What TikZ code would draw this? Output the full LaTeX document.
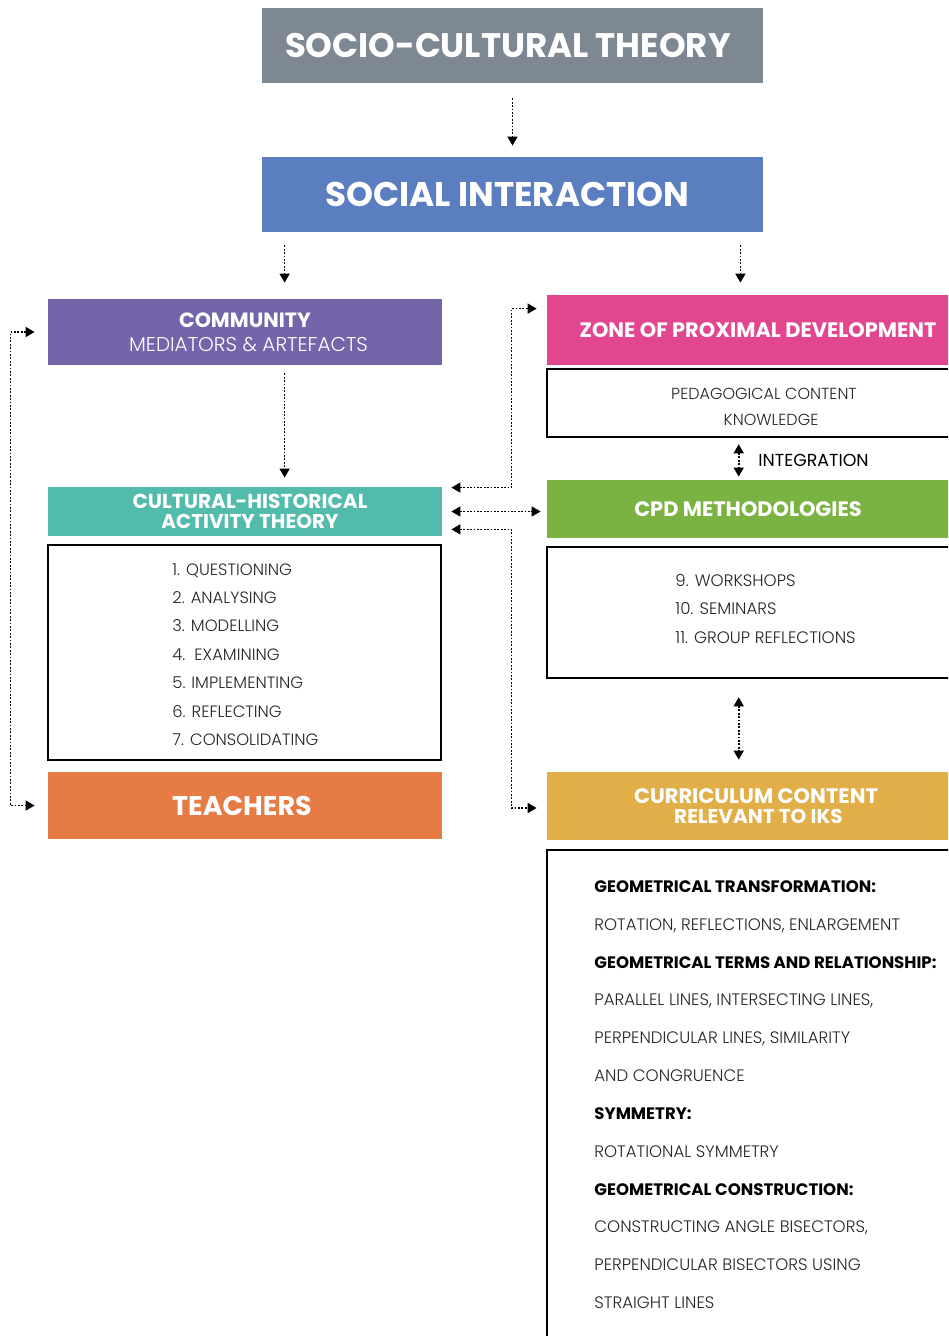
\documentclass[tikz,border=0pt]{standalone}
\usepackage{fontspec}
\setmainfont{Poppins}
\newfontfamily\lightfont{Poppins Light}
\usetikzlibrary{arrows.meta,calc,fit}

\definecolor{cSCT}{HTML}{7E8893}
\definecolor{cSI}{HTML}{5B7EC0}
\definecolor{cCOMM}{HTML}{7465AB}
\definecolor{cZPD}{HTML}{E2468E}
\definecolor{cCHAT}{HTML}{52BBAB}
\definecolor{cCPD}{HTML}{7AB342}
\definecolor{cTEACH}{HTML}{E67B43}
\definecolor{cCURR}{HTML}{E2AE47}
\definecolor{cText}{HTML}{262626}

\tikzset{
  hbox/.style={inner sep=0pt, draw=none, text=white, align=center, font=\bfseries},
  wbox/.style={inner sep=0pt, draw=black, line width=1.3pt, fill=white},
  item/.style={anchor=west, inner sep=0pt, text height=0.7em, text depth=0pt,
    text=cText, font=\lightfont\fontsize{8.2}{9}\selectfont},
  gitem/.style={item, font=\lightfont\fontsize{8.3}{9}\selectfont},
  bitem/.style={item, text=black, font=\bfseries\fontsize{8.3}{9}\selectfont},
  conn/.style={line width=0.8pt, dash pattern=on 0.9pt off 0.8pt,
    -{Triangle[length=4.5pt,width=5pt]}},
  biconn/.style={conn, {Triangle[length=4.5pt,width=5pt]}-{Triangle[length=4.5pt,width=5pt]}},
}

\begin{document}
\begin{tikzpicture}[x=0.5pt, y=-0.5pt]
\clip (0,0) rectangle (948,1336);

% ---- coloured heading boxes ----
\node[hbox, fill=cSCT, minimum width=250.5pt, minimum height=37.5pt] (sct) at (512.5,45.5)
  {\fontsize{17}{20}\selectfont\hspace*{-4.5pt}SOCIO-CULTURAL THEORY};
\node[hbox, fill=cSI, minimum width=250.5pt, minimum height=37.5pt] (si) at (512.5,194.5)
  {\fontsize{17.1}{20}\selectfont\hspace*{-5pt}SOCIAL INTERACTION};
\node[hbox, fill=cCOMM, minimum width=197pt, minimum height=33pt] (comm) at (245,332)
  {\fontsize{10.3}{11}\selectfont COMMUNITY\\
   {\lightfont\mdseries\fontsize{10}{11}\selectfont\hspace*{3.5pt}MEDIATORS \& ARTEFACTS}};
\node[hbox, fill=cZPD, minimum width=202.5pt, minimum height=35pt] (zpd) at (749.5,330)
  {\fontsize{10.45}{12}\selectfont\hspace*{8.5pt}ZONE OF PROXIMAL DEVELOPMENT};
\node[hbox, fill=cCHAT, minimum width=197pt, minimum height=24.5pt] (chat) at (245,511.5)
  {\fontsize{10.1}{10.2}\selectfont\hspace*{5pt}CULTURAL-HISTORICAL\\[-2pt]\hspace*{5pt}ACTIVITY THEORY};
\node[hbox, fill=cCPD, minimum width=202.5pt, minimum height=29pt] (cpd) at (749.5,509)
  {\fontsize{10.45}{12}\selectfont\hspace*{-1.5pt}CPD METHODOLOGIES};
\node[hbox, fill=cTEACH, minimum width=197pt, minimum height=33.5pt] (teach) at (245,805.5)
  {\fontsize{13.5}{15}\selectfont\hspace*{-3pt}TEACHERS};
\node[hbox, fill=cCURR, minimum width=202.5pt, minimum height=34pt] (curr) at (749.5,806)
  {\fontsize{10.5}{10.6}\selectfont\hspace*{6.5pt}CURRICULUM CONTENT\\[-2pt]\hspace*{9pt}RELEVANT TO IKS};

% ---- framed content boxes ----
\node[wbox, fit={(547,369)(955,437)}] (pck) {};
\node[wbox, fit={(48,545)(441,760)}] (steps) {};
\node[wbox, fit={(547,547)(955,678)}] (cpdlist) {};
\node[wbox, fit={(547,850)(955,1345)}] (content) {};

% pedagogical content knowledge
\node[item, anchor=center, font=\lightfont\fontsize{8}{9}\selectfont] (pck1) at (764,393) {PEDAGOGICAL CONTENT};
\node[item, anchor=center, font=\lightfont\fontsize{8}{9}\selectfont] (pck2) at (771,418) {KNOWLEDGE};
\node[item, text=black, font=\fontsize{8.7}{9}\selectfont] (integ) at (758,459) {INTEGRATION};

% activity theory steps
\node[item] (s1) at (172,568) {1. QUESTIONING};
\node[item] (s2) at (172,596) {2. ANALYSING};
\node[item] (s3) at (172,624) {3. MODELLING};
\node[item] (s4) at (172,653) {4.\ \ EXAMINING};
\node[item] (s5) at (172,681) {5. IMPLEMENTING};
\node[item] (s6) at (172,710) {6. REFLECTING};
\node[item] (s7) at (172,738) {7. CONSOLIDATING};

% CPD methodologies
\node[gitem] (m9) at (675,579) {9. WORKSHOPS};
\node[gitem] (m10) at (675,607) {10. SEMINARS};
\node[gitem] (m11) at (675,636) {11. GROUP REFLECTIONS};

% curriculum content
\node[bitem] (g1) at (594,885) {GEOMETRICAL TRANSFORMATION:};
\node[gitem] (g2) at (594,923) {ROTATION, REFLECTIONS, ENLARGEMENT};
\node[bitem] (g3) at (594,961) {GEOMETRICAL TERMS AND RELATIONSHIP:};
\node[gitem] (g4) at (594,998) {PARALLEL LINES, INTERSECTING LINES,};
\node[gitem] (g5) at (594,1036) {PERPENDICULAR LINES, SIMILARITY};
\node[gitem] (g6) at (594,1074) {AND CONGRUENCE};
\node[bitem] (g7) at (594,1112) {SYMMETRY:};
\node[gitem] (g8) at (594,1150) {ROTATIONAL SYMMETRY};
\node[bitem] (g9) at (594,1188) {GEOMETRICAL CONSTRUCTION:};
\node[gitem] (g10) at (594,1225) {CONSTRUCTING ANGLE BISECTORS,};
\node[gitem] (g11) at (594,1263) {PERPENDICULAR BISECTORS USING};
\node[gitem] (g12) at (594,1301) {STRAIGHT LINES};

% ---- connectors ----
\draw[conn, shorten <=7.5pt, shorten >=5.5pt] (sct.south) -- (si.north);

\coordinate (siL) at ($(si.south west)+(23,0)$);
\coordinate (siR) at ($(si.south east)+(-23,0)$);
\draw[conn, shorten <=6.5pt, shorten >=8pt] (siL) -- (siL |- comm.north);
\draw[conn, shorten <=6.5pt, shorten >=6pt] (siR) -- (siR |- zpd.north);

\coordinate (commX) at ($(comm.south west)+(237,0)$);
\draw[conn, shorten <=4pt, shorten >=4.5pt] (commX) -- (commX |- chat.north);

\coordinate (pckX) at ($(pck.south west)+(193,0)$);
\draw[biconn, shorten <=3pt, shorten >=1.5pt] (pckX) -- (pckX |- cpd.north);

\coordinate (cpdX) at ($(cpdlist.south west)+(193,0)$);
\draw[biconn, shorten <=9pt, shorten >=6pt] (cpdX) -- (cpdX |- curr.north);

% loop between community and teachers
\draw[biconn, shorten <=6.5pt, shorten >=6.5pt]
  (comm.west) -- ++(-37,0) |- (teach.west);

% links from the activity theory box to the right column
\draw[biconn, shorten <=4.5pt, shorten >=5pt]
  ($(chat.north east)+(0,1)$) -| ($(zpd.north west)+(-35,14)$) -- ($(zpd.north west)+(0,14)$);
\draw[biconn, shorten <=4.5pt, shorten >=3pt]
  (chat.east) -- (chat.east -| cpd.west);
\draw[biconn, shorten <=4.5pt, shorten >=5pt]
  ($(chat.south east)+(0,-7)$) -| ($(curr.west)+(-35,2)$) -- ($(curr.west)+(0,2)$);
\end{tikzpicture}
\end{document}
